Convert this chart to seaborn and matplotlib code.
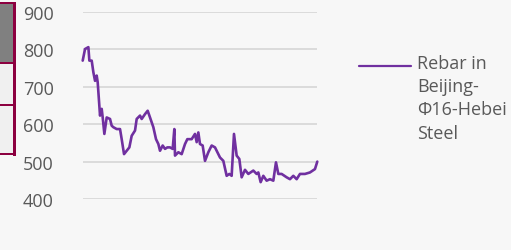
import matplotlib
matplotlib.use("Agg")
import matplotlib.pyplot as plt
from matplotlib.patches import Rectangle
from matplotlib.lines import Line2D
import seaborn as sns
import pandas as pd

# ---- data ----
days = [0, 14, 34, 40, 54, 64, 74, 84, 90, 104, 114, 120, 130, 144, 164, 174, 184, 204,
        224, 234, 248, 264, 280, 294, 314, 324, 344, 354, 374, 390, 404, 424, 440, 454,
        464, 480, 494, 508, 524, 540, 550, 554, 574, 594, 614, 628, 654, 674, 684, 694,
        704, 720, 734, 754, 774, 794, 824, 844, 864, 880, 894, 908, 924, 940, 954, 974,
        994, 1024, 1044, 1054, 1068, 1084, 1104, 1124, 1144, 1160, 1174, 1194, 1224,
        1244, 1264, 1284, 1304, 1334, 1364, 1394, 1408]
price = [770, 801, 806, 770, 770, 739, 716, 730, 712, 623, 641, 618, 574, 618, 614, 596,
         592, 587, 587, 560, 520, 529, 538, 569, 583, 614, 623, 614, 627, 636, 618, 592,
         560, 547, 529, 543, 534, 538, 538, 534, 587, 516, 525, 520, 547, 560, 560, 574,
         552, 578, 547, 543, 502, 525, 543, 538, 511, 502, 462, 467, 462, 574, 516, 507,
         458, 478, 467, 476, 467, 471, 445, 462, 449, 453, 449, 498, 467, 467, 458, 453,
         462, 453, 467, 467, 471, 480, 500]
series_name = "Rebar in\nBeijing-\nΦ16-Hebei\nSteel"
yticks = [400, 500, 600, 700, 800, 900]

df = pd.DataFrame({"day": days, "price": price})

sns.set_style("white")
plt.rcParams["font.family"] = ["Open Sans", "DejaVu Sans"]

W, H = 511, 251
BG = "#f7f7f7"
TXT = "#595959"
PURPLE = "#7030a0"

fig = plt.figure(figsize=(W / 100, H / 100), dpi=100, facecolor=BG)
ax = fig.add_axes([82.7 / W, 1 - 200 / H, (317.3 - 82.7) / W, (200 - 13) / H])
ax.set_facecolor(BG)

sns.lineplot(data=df, x="day", y="price", ax=ax, color=PURPLE, linewidth=1.9,
             clip_on=False, legend=False)

ax.set_xlim(min(days), max(days))
ax.set_ylim(400, 900)
ax.set_yticks(yticks)
ax.set_yticklabels([str(v) for v in yticks])
ax.set_xticks([])
ax.set_xlabel("")
ax.set_ylabel("")
for s in ax.spines.values():
    s.set_visible(False)
ax.grid(axis="y", color="#d9d9d9", linewidth=1.3)
ax.grid(axis="x", visible=False)
ax.set_axisbelow(True)
ax.tick_params(axis="y", length=0, pad=21, labelsize=13, labelcolor=TXT)

# ---- legend (manual, handle aligned with first line) ----
def fx(px):
    return px / W

def fy(py):
    return 1 - py / H

fig.add_artist(Line2D([fx(359), fx(411)], [fy(66.7), fy(66.7)], color=PURPLE,
                      linewidth=1.6, transform=fig.transFigure))
fig.text(fx(417), fy(55), series_name, ha="left", va="top", fontsize=13,
         color=TXT, linespacing=1.37)

# ---- cropped neighbouring table at the left edge ----
MAROON = "#8c0040"
def rect(x0, y0, x1, y1, color):
    fig.add_artist(Rectangle((fx(x0), fy(y1)), (x1 - x0) / W, (y1 - y0) / H,
                             transform=fig.transFigure, facecolor=color,
                             edgecolor="none", linewidth=0))

rect(0, 5, 13, 63, "#808080")
rect(0, 65, 13, 155, "#f0f0f0")
rect(0, 3, 13, 5, MAROON)
rect(0, 63, 13, 65, MAROON)
rect(0, 104.5, 13, 106.5, MAROON)
rect(0, 154, 13, 156, MAROON)
rect(13, 3, 15.5, 157, MAROON)

fig.savefig("out.png", dpi=100, facecolor=BG)
